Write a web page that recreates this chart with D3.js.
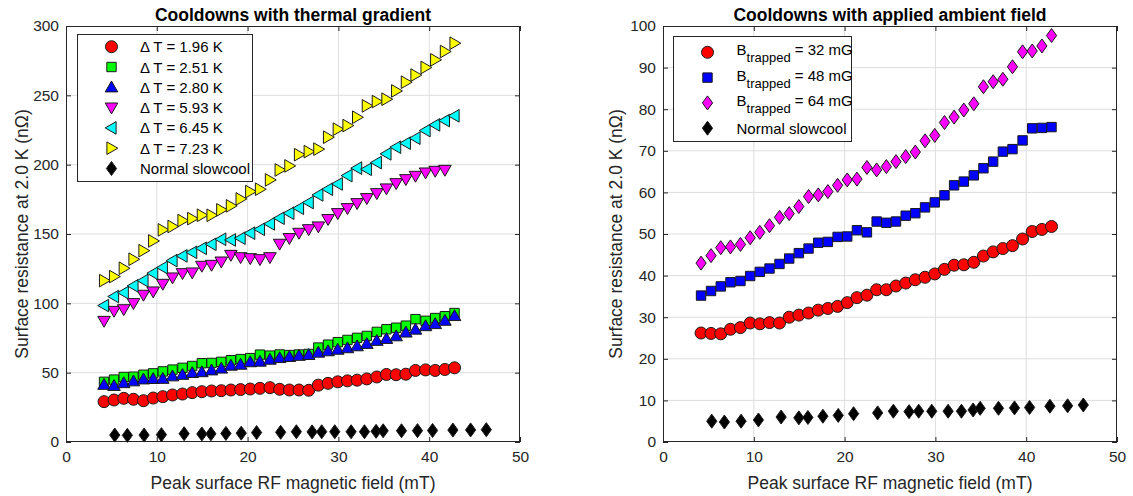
<!DOCTYPE html>
<html><head><meta charset="utf-8">
<script src="https://cdn.jsdelivr.net/npm/d3@7"></script>
<style>
body{margin:0;background:#fff}
svg{display:block}
text{font-family:"Liberation Sans",Arial,Helvetica,sans-serif;fill:#262626}
</style>
</head><body>
<svg id="c" width="1133" height="496"></svg>
<script>
// ---------- data ----------
const field = [4.19, 5.29, 6.36, 7.43, 8.53, 9.60, 10.66, 11.73, 12.83, 13.90, 14.96, 16.03, 17.10, 18.16, 19.23, 20.29, 21.36, 22.46, 23.53, 24.60, 25.66, 26.73, 27.79, 28.86, 29.93, 31.00, 32.06, 33.13, 34.23, 35.29, 36.36, 37.43, 38.49, 39.60, 40.66, 41.73, 42.79];

const dT196 = [29.1, 30.3, 31.5, 30.8, 29.8, 31.7, 32.7, 33.9, 34.6, 35.6, 36.3, 36.8, 37.0, 37.5, 37.8, 38.2, 38.7, 39.2, 38.0, 37.5, 37.5, 37.3, 41.0, 42.3, 43.4, 44.1, 44.6, 45.5, 46.9, 48.7, 48.5, 48.9, 51.6, 52.0, 51.6, 52.3, 53.5];
const dT251 = [43.4, 45.0, 46.9, 47.1, 48.5, 49.5, 50.9, 52.2, 53.5, 54.8, 56.8, 57.0, 57.8, 59.0, 59.8, 60.5, 63.0, 62.3, 63.1, 62.7, 63.1, 63.5, 68.1, 70.2, 72.0, 73.6, 75.1, 76.5, 79.4, 81.3, 82.4, 83.9, 88.6, 87.4, 89.4, 90.7, 93.0];
const dT280 = [41.3, 40.5, 42.5, 43.8, 45.2, 45.5, 45.6, 47.4, 48.5, 49.8, 50.4, 51.7, 53.0, 55.1, 55.8, 57.6, 58.0, 59.4, 60.6, 61.4, 62.2, 62.8, 64.5, 65.5, 66.6, 67.7, 69.1, 70.8, 73.0, 74.4, 76.3, 79.0, 81.1, 83.6, 85.1, 87.5, 90.9];
const dT593 = [87.3, 94.5, 95.7, 100.1, 106.1, 108.5, 114.0, 118.6, 121.7, 122.2, 127.0, 127.7, 130.1, 134.9, 133.2, 132.5, 131.8, 133.2, 142.9, 147.0, 150.8, 153.4, 155.4, 160.7, 165.0, 168.6, 172.2, 175.8, 179.4, 182.8, 186.6, 189.5, 191.9, 194.3, 195.5, 196.2];
const dT645 = [98.4, 104.9, 107.7, 112.6, 116.4, 121.7, 125.8, 130.8, 134.2, 136.8, 139.7, 142.6, 146.2, 145.7, 147.0, 150.6, 153.4, 157.3, 161.4, 165.0, 168.6, 172.7, 178.2, 182.3, 186.1, 192.1, 197.5, 196.7, 201.5, 207.8, 212.6, 215.5, 219.1, 224.6, 228.7, 231.8, 235.2];
const dT723 = [116.4, 119.3, 125.3, 131.8, 138.0, 145.0, 153.0, 155.4, 159.7, 161.1, 163.5, 163.5, 167.4, 170.3, 175.3, 180.6, 182.3, 189.0, 196.2, 199.1, 207.2, 209.4, 211.2, 219.8, 225.6, 228.2, 234.2, 242.4, 245.5, 247.2, 253.2, 259.5, 264.6, 270.1, 275.6, 281.6, 287.6];

const slowField = [5.37, 6.76, 8.60, 10.51, 13.01, 14.96, 15.96, 17.61, 19.30, 20.99, 23.64, 25.37, 27.10, 28.16, 29.60, 31.40, 32.87, 34.15, 34.93, 36.95, 38.71, 40.37, 42.61, 44.56, 46.29];
const slowRs = [5.0, 4.8, 5.0, 5.3, 6.0, 5.8, 5.9, 6.2, 6.4, 6.8, 7.0, 7.4, 7.3, 7.4, 7.4, 7.4, 7.4, 7.7, 8.1, 8.1, 8.2, 8.3, 8.6, 8.7, 8.9];

const b32 = [26.2, 26.1, 26.0, 27.1, 27.5, 28.6, 28.4, 28.7, 28.6, 30.0, 30.5, 31.0, 31.7, 32.1, 32.6, 33.5, 34.7, 35.3, 36.6, 36.6, 37.5, 38.2, 39.0, 39.6, 40.4, 41.5, 42.5, 42.6, 43.2, 44.7, 45.7, 46.5, 47.2, 48.8, 50.6, 51.1, 51.8];
const b48 = [35.2, 36.3, 37.4, 38.4, 38.7, 39.9, 40.9, 41.7, 42.8, 44.1, 45.4, 46.5, 47.9, 48.1, 49.3, 49.4, 50.9, 50.4, 53.0, 52.7, 53.0, 54.4, 55.0, 56.4, 57.6, 59.3, 61.7, 62.6, 64.1, 65.8, 67.4, 69.8, 70.4, 72.5, 75.4, 75.5, 75.7];
const b64 = [43.0, 44.8, 46.7, 46.9, 47.5, 49.1, 50.4, 52.0, 54.0, 54.9, 56.6, 59.0, 59.4, 60.2, 61.7, 63.0, 63.2, 66.0, 65.4, 66.2, 67.4, 68.6, 69.7, 72.4, 73.7, 76.8, 78.1, 79.8, 81.3, 85.4, 86.6, 87.2, 90.2, 93.8, 94.0, 95.2, 97.7];

const xTicks = [0, 10, 20, 30, 40, 50];
const yTicksLeft = [0, 50, 100, 150, 200, 250, 300];
const yTicksRight = [0, 10, 20, 30, 40, 50, 60, 70, 80, 90, 100];

const leftLabels = ["Δ T = 1.96 K", "Δ T = 2.51 K", "Δ T = 2.80 K", "Δ T = 5.93 K", "Δ T = 6.45 K", "Δ T = 7.23 K", "Normal slowcool"];
const rightLabels = ["32 mG", "48 mG", "64 mG", "Normal slowcool"];

// ---------- marker shapes ----------
const shapes = {
  circle: "M6,0A6,6 0 1,1 -6,0A6,6 0 1,1 6,0Z",
  square: "M-4.7,-4.7H4.7V4.7H-4.7Z",
  triUp: "M0,-6.3L6.3,4.6L-6.3,4.6Z",
  triDown: "M0,6.3L6.3,-4.6L-6.3,-4.6Z",
  triLeft: "M-6.3,0L4.6,-6.3L4.6,6.3Z",
  triRight: "M6.3,0L-4.6,-6.3L-4.6,6.3Z",
  diamond: "M0,-7L5.1,0L0,7L-5.1,0Z"
};

const svg = d3.select("#c");
const AX = "#262626";

function panel(cfg) {
  const g = svg.append("g");
  const x = d3.scaleLinear().domain([0, 50]).range([cfg.x0, cfg.x1]);
  const y = d3.scaleLinear().domain([0, cfg.ymax]).range([442, 26]);

  // grid
  g.append("g").selectAll("line").data(xTicks.slice(1, -1)).join("line")
    .attr("x1", d => x(d)).attr("x2", d => x(d)).attr("y1", 26).attr("y2", 442)
    .attr("stroke", "#dedede").attr("stroke-width", 1);
  g.append("g").selectAll("line").data(cfg.yTicks.slice(1, -1)).join("line")
    .attr("y1", d => y(d)).attr("y2", d => y(d)).attr("x1", cfg.x0).attr("x2", cfg.x1)
    .attr("stroke", "#dedede").attr("stroke-width", 1);

  // axes
  const styleAxis = sel => {
    sel.select(".domain").remove();
    sel.selectAll("line").attr("stroke", AX);
    sel.selectAll("text").style("font-size", "15.5px").attr("fill", AX);
  };
  g.append("g").attr("transform", `translate(0,442)`)
    .call(d3.axisBottom(x).tickValues(xTicks).tickSize(-5).tickPadding(9)).call(styleAxis);
  g.append("g").attr("transform", `translate(0,26)`)
    .call(d3.axisTop(x).tickValues(xTicks).tickSize(-5).tickFormat("")).call(styleAxis);
  g.append("g").attr("transform", `translate(${cfg.x0},0)`)
    .call(d3.axisLeft(y).tickValues(cfg.yTicks).tickSize(-5).tickPadding(7)).call(styleAxis);
  g.append("g").attr("transform", `translate(${cfg.x1},0)`)
    .call(d3.axisRight(y).tickValues(cfg.yTicks).tickSize(-5).tickFormat("")).call(styleAxis);
  g.selectAll(".tick text").attr("font-family", null);

  g.append("rect").attr("x", cfg.x0 + 0.5).attr("y", 26.5)
    .attr("width", cfg.x1 - cfg.x0 - 1).attr("height", 415)
    .attr("fill", "none").attr("stroke", AX).attr("stroke-width", 1);

  // series
  cfg.series.forEach(s => {
    g.append("g").selectAll("path").data(s.vals).join("path")
      .attr("d", shapes[s.shape])
      .attr("transform", (d, i) => `translate(${x(s.xs[i])},${y(d)})`)
      .attr("fill", s.color).attr("stroke", "#1a1a1a").attr("stroke-width", 1);
  });

  // titles
  const cx = (cfg.x0 + cfg.x1) / 2;
  g.append("text").attr("x", cx).attr("y", 21).attr("text-anchor", "middle")
    .style("font-size", "17.5px").style("font-weight", "bold").style("fill", "#000").text(cfg.title);
  g.append("text").attr("x", cx).attr("y", 489).attr("text-anchor", "middle")
    .style("font-size", "17.5px").text("Peak surface RF magnetic field (mT)");
  g.append("text").attr("transform", `translate(${cfg.ylx},234) rotate(-90)`).attr("text-anchor", "middle")
    .style("font-size", "17.5px").text("Surface resistance at 2.0 K (nΩ)");

  // legend
  const L = cfg.legend;
  g.append("rect").attr("x", L.x + 0.5).attr("y", L.y + 0.5).attr("width", L.w).attr("height", L.h)
    .attr("fill", "#fff").attr("stroke", AX).attr("stroke-width", 1);
  cfg.series.forEach((s, i) => {
    const yy = L.y0 + i * L.dy;
    g.append("path").attr("d", shapes[s.shape])
      .attr("transform", `translate(${L.mx},${yy})`)
      .attr("fill", s.color).attr("stroke", "#1a1a1a").attr("stroke-width", 1);
    const t = g.append("text").attr("x", L.tx).attr("y", yy + 5.5).style("font-size", "15px").style("fill", "#000");
    if (s.sub) {
      t.attr("y", yy + 3);
      t.append("tspan").text("B");
      t.append("tspan").attr("dy", 7).style("font-size", "13px").text("trapped");
      t.append("tspan").attr("dy", -7).text(" = " + s.label);
    } else {
      t.text(s.label);
    }
  });
}

panel({
  x0: 66, x1: 520, ymax: 300, yTicks: yTicksLeft, ylx: 28,
  title: "Cooldowns with thermal gradient",
  legend: {x: 77, y: 34, w: 175, h: 147, y0: 46.7, dy: 20.3, mx: 111.5, tx: 140},
  series: [
    {vals: dT196, xs: field, shape: "circle", color: "#ff0000", label: leftLabels[0]},
    {vals: dT251, xs: field, shape: "square", color: "#00ff00", label: leftLabels[1]},
    {vals: dT280, xs: field, shape: "triUp", color: "#0000ff", label: leftLabels[2]},
    {vals: dT593, xs: field, shape: "triDown", color: "#ff00ff", label: leftLabels[3]},
    {vals: dT645, xs: field, shape: "triLeft", color: "#00ffff", label: leftLabels[4]},
    {vals: dT723, xs: field, shape: "triRight", color: "#ffff00", label: leftLabels[5]},
    {vals: slowRs, xs: slowField, shape: "diamond", color: "#000000", label: leftLabels[6]}
  ]
});

panel({
  x0: 663, x1: 1117, ymax: 100, yTicks: yTicksRight, ylx: 622,
  title: "Cooldowns with applied ambient field",
  legend: {x: 673, y: 36, w: 178, h: 105, y0: 52.3, dy: 25.3, mx: 707.5, tx: 736.5},
  series: [
    {vals: b32, xs: field, shape: "circle", color: "#ff0000", label: rightLabels[0], sub: true},
    {vals: b48, xs: field, shape: "square", color: "#0000ff", label: rightLabels[1], sub: true},
    {vals: b64, xs: field, shape: "diamond", color: "#ff00ff", label: rightLabels[2], sub: true},
    {vals: slowRs, xs: slowField, shape: "diamond", color: "#000000", label: rightLabels[3]}
  ]
});
</script>
</body></html>
